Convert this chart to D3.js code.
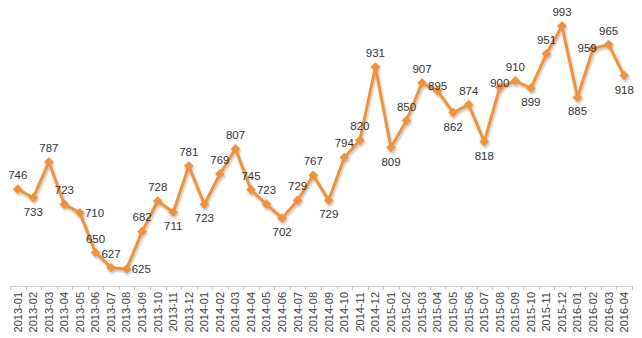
<!DOCTYPE html>
<html>
<head>
<meta charset="utf-8">
<script src="https://cdn.jsdelivr.net/npm/d3@7/dist/d3.min.js"></script>
<style>
  html, body { margin: 0; padding: 0; background: #fff; }
  svg { display: block; }
</style>
</head>
<body>
<svg id="chart" width="642" height="338"></svg>
<script>
const categories = [
  "2013-01","2013-02","2013-03","2013-04","2013-05","2013-06","2013-07","2013-08","2013-09","2013-10","2013-11","2013-12",
  "2014-01","2014-02","2014-03","2014-04","2014-05","2014-06","2014-07","2014-08","2014-09","2014-10","2014-11","2014-12",
  "2015-01","2015-02","2015-03","2015-04","2015-05","2015-06","2015-07","2015-08","2015-09","2015-10","2015-11","2015-12",
  "2016-01","2016-02","2016-03","2016-04"
];
const values = [
  746, 733, 787, 723, 710, 650, 627, 625, 682, 728, 711, 781,
  723, 769, 807, 745, 723, 702, 729, 767, 729, 794, 820, 931,
  809, 850, 907, 895, 862, 874, 818, 900, 910, 899, 951, 993,
  885, 959, 965, 918
];
// label placement: a = above, b = below, r = right, o = just over, l = left-over
const labelPlacement = [
  "a","b","a","a","r","a","a","r","a","a","b","a",
  "b","a","a","a","a","b","a","a","b","a","a","a",
  "b","a","a","o","b","a","b","o","a","b","a","a",
  "b","l","a","b"
];

const svg = d3.select("#chart");
const x = d3.scaleBand().domain(categories).range([10, 632]);
const y = d3.scaleLinear().domain([600, 1000]).range([285.5, 21.5]);
const color = "#f0923c";

// X axis
const axisY = 286;
const xAxis = d3.axisBottom(x).tickSize(0).tickSizeOuter(0);
const gx = svg.append("g").attr("transform", `translate(0,${axisY})`).call(xAxis);
gx.select(".domain").attr("stroke", "#c8c8c8").attr("stroke-width", 1);
gx.selectAll(".tick text")
  .attr("transform", "rotate(-90)")
  .attr("text-anchor", "end")
  .attr("x", -6)
  .attr("y", 0)
  .attr("dy", "0.35em")
  .attr("fill", "#404040")
  .style("font-family", "'Liberation Sans', Arial, sans-serif")
  .style("font-size", "11px");
// tick marks at band boundaries
const bounds = categories.map(c => x(c)).concat([x.range()[1]]);
svg.append("g").selectAll("line").data(bounds).join("line")
  .attr("x1", d => Math.round(d) + 0.5).attr("x2", d => Math.round(d) + 0.5)
  .attr("y1", axisY).attr("y2", axisY + 4)
  .attr("stroke", "#c8c8c8").attr("stroke-width", 1);

const pts = categories.map((c, i) => ({ c, v: values[i], p: labelPlacement[i], x: x(c) + x.bandwidth() / 2, y: y(values[i]) }));

// shadow filter
const defs = svg.append("defs");
const f = defs.append("filter").attr("id", "sh").attr("x", "-10%").attr("y", "-10%").attr("width", "120%").attr("height", "130%");
f.append("feGaussianBlur").attr("in", "SourceAlpha").attr("stdDeviation", 1.2);
f.append("feOffset").attr("dx", 1).attr("dy", 2).attr("result", "ob");
f.append("feComponentTransfer").append("feFuncA").attr("type", "linear").attr("slope", 0.25);
const m = f.append("feMerge");
m.append("feMergeNode");
m.append("feMergeNode").attr("in", "SourceGraphic");

const line = d3.line().x(d => d.x).y(d => d.y);
const gLine = svg.append("g").attr("filter", "url(#sh)");
gLine.append("path").datum(pts).attr("d", line)
  .attr("fill", "none").attr("stroke", color).attr("stroke-width", 3).attr("stroke-linejoin", "round");
gLine.selectAll("path.mk").data(pts).join("path").attr("class", "mk")
  .attr("transform", d => `translate(${d.x},${d.y})`)
  .attr("d", d3.symbol().type(d3.symbolDiamond2).size(60))
  .attr("fill", color);

// data labels
svg.append("g").selectAll("text").data(pts).join("text")
  .attr("x", d => d.p === "r" ? d.x + 5 : d.p === "l" ? d.x - 6 : d.x)
  .attr("y", d => {
    if (d.p === "a") return d.y - 10;
    if (d.p === "b") return d.y + 18;
    if (d.p === "r") return d.y + 4;
    if (d.p === "o") return d.y - 1;
    return d.y + 3;
  })
  .attr("text-anchor", d => d.p === "r" ? "start" : "middle")
  .attr("fill", "#333")
  .style("font-family", "'Liberation Sans', Arial, sans-serif")
  .style("font-size", "11.5px")
  .text(d => d.v);
</script>
</body>
</html>
